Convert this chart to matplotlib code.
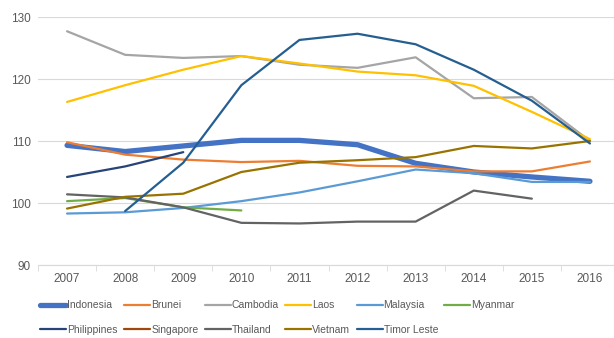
import numpy as np
import matplotlib.pyplot as plt

plt.rcParams['font.family'] = ['Liberation Sans', 'DejaVu Sans']

years = ['2007', '2008', '2009', '2010', '2011', '2012', '2013', '2014', '2015', '2016']
nan = np.nan

indonesia = [109.3, 108.3, 109.2, 110.1, 110.1, 109.4, 106.4, 105.0, 104.2, 103.5]
brunei = [109.8, 107.8, 107.0, 106.6, 106.8, 106.0, 105.9, 105.1, 105.1, 106.7]
cambodia = [127.7, 123.9, 123.4, 123.7, 122.3, 121.8, 123.5, 116.9, 117.1, 110.0]
laos = [116.3, 119.0, 121.5, 123.7, 122.5, 121.2, 120.6, 118.9, 114.7, 110.3]
malaysia = [98.3, 98.5, 99.2, 100.3, 101.7, 103.5, 105.4, 104.8, 103.4, 103.4]
myanmar = [100.3, 100.8, 99.3, 98.8, nan, nan, nan, nan, nan, nan]
philippines = [104.2, 105.9, 108.2, nan, nan, nan, nan, nan, nan, nan]
singapore = [nan] * 10
thailand = [101.4, 100.9, 99.3, 96.8, 96.7, 97.0, 97.0, 102.0, 100.7, nan]
vietnam = [99.1, 101.0, 101.5, 105.0, 106.5, 106.9, 107.4, 109.2, 108.8, 110.0]
timor_leste = [nan, 98.7, 106.5, 119.0, 126.3, 127.3, 125.6, 121.5, 116.5, 109.6]

series = [
    ('Indonesia', indonesia, '#4472C4', 3.8),
    ('Brunei', brunei, '#ED7D31', 1.6),
    ('Cambodia', cambodia, '#A5A5A5', 1.6),
    ('Laos', laos, '#FFC000', 1.6),
    ('Malaysia', malaysia, '#5B9BD5', 1.6),
    ('Myanmar', myanmar, '#70AD47', 1.6),
    ('Philippines', philippines, '#264478', 1.6),
    ('Singapore', singapore, '#9E480E', 1.6),
    ('Thailand', thailand, '#636363', 1.6),
    ('Vietnam', vietnam, '#997300', 1.6),
    ('Timor Leste', timor_leste, '#255E91', 1.6),
]

fig = plt.figure(figsize=(6.14, 3.38), dpi=100)
ax = fig.add_axes([38 / 614, 73 / 338, 581 / 614, 248 / 338])

x = np.arange(len(years))
for name, vals, color, lw in series:
    ax.plot(x, vals, color=color, lw=lw, label=name, solid_capstyle='round')

ax.set_xlim(-0.5, len(years) - 0.5)
ax.set_ylim(90, 130)
ax.set_yticks([90, 100, 110, 120, 130])
ax.set_xticks(x)
ax.set_xticklabels(years)
ax.set_xticks(np.arange(-0.5, len(years)), minor=True)
ax.grid(axis='y', color='#D9D9D9', lw=0.8)
ax.set_axisbelow(True)
for s in ['top', 'right', 'left']:
    ax.spines[s].set_visible(False)
ax.spines['bottom'].set_color('#D9D9D9')
ax.tick_params(axis='both', which='major', length=0, labelsize=8.5, labelcolor='#595959', pad=6)
ax.tick_params(axis='y', pad=5)
ax.tick_params(axis='x', which='minor', length=4, color='#D9D9D9')

# legend is filled column by column, so reorder to get row-wise order
handles, labels = ax.get_legend_handles_labels()
order = [0, 6, 1, 7, 2, 8, 3, 9, 4, 10, 5]
fig.legend([handles[i] for i in order], [labels[i] for i in order],
           loc='upper left', bbox_to_anchor=(33 / 614, 1 - 293 / 338), ncol=6,
           frameon=False, fontsize=7.5, handlelength=2.5, handletextpad=0.1,
           columnspacing=0.6, labelspacing=1.4, labelcolor='#595959',
           borderpad=0.2)

fig.savefig('out.png', dpi=100)
